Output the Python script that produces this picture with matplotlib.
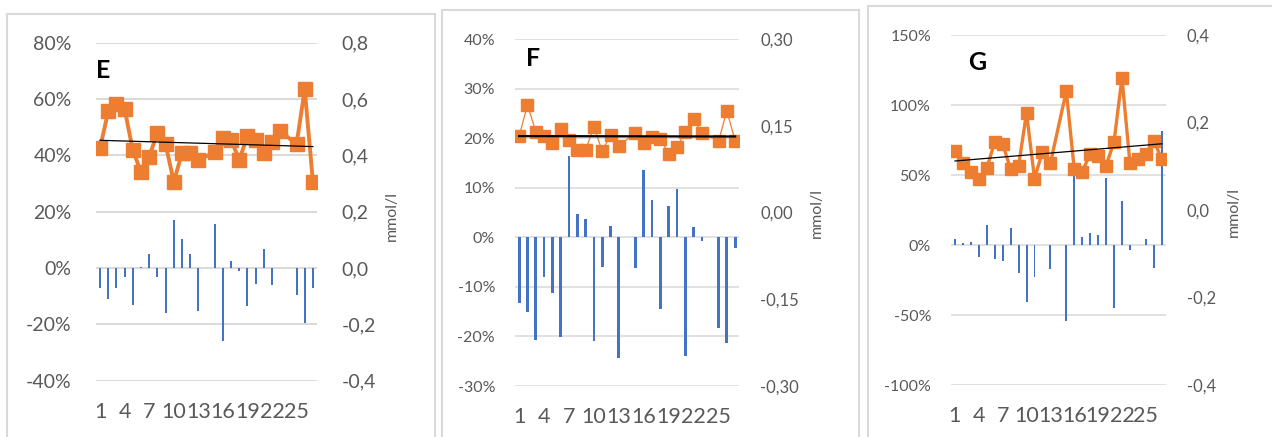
import numpy as np
import matplotlib
matplotlib.use("Agg")
import matplotlib.pyplot as plt
from matplotlib.patches import Rectangle

plt.rcParams['font.family'] = ['Lato', 'DejaVu Sans']

nan = np.nan
cats = np.arange(1, 28)
xtick_pos = [1, 4, 7, 10, 13, 16, 19, 22, 25]

# bars: % change (left axis), line: mmol/l (right axis)
e_bars = [-7.0, -10.9, -7.0, -3.2, -13.0, 0.5, 5.1, -3.2, -16.0, 16.9, 10.4, 5.1, -15.1, nan,
          15.5, -26.0, 2.5, -1.2, -13.6, -5.6, 6.6, -6.2, nan, nan, -9.7, -19.6, -7.0]
e_line = [0.427, 0.557, 0.584, 0.563, 0.418, 0.341, 0.395, 0.481, 0.440, 0.306, 0.407, 0.409, 0.383, nan,
          0.412, 0.463, 0.454, 0.385, 0.468, 0.454, 0.407, 0.448, 0.486, nan, 0.440, 0.634, 0.306]

f_bars = [-13.3, -15.0, -20.7, -8.1, -11.3, -20.1, 16.4, 4.6, 3.6, -20.9, -5.9, 2.3, -24.4, nan,
          -6.1, 13.6, 7.5, -14.5, 6.4, 9.8, -24.0, 2.0, -0.7, nan, -18.2, -21.3, -2.2]
f_line = [0.132, 0.186, 0.140, 0.132, 0.121, 0.145, 0.126, 0.108, 0.108, 0.148, 0.106, 0.134, 0.115, nan,
          0.138, 0.120, 0.131, 0.127, 0.102, 0.113, 0.140, 0.162, 0.138, nan, 0.123, 0.176, 0.124]

g_bars = [4.0, 1.4, 1.9, -8.8, 14.3, -10.2, -11.4, 11.9, -19.8, -40.5, -22.6, nan, -17.4, nan,
          -54.3, 53.0, 5.5, 8.8, 7.1, 47.6, -45.2, 31.7, -3.6, nan, 4.3, -16.7, 81.7]
g_line = [0.136, 0.108, 0.088, 0.071, 0.095, 0.156, 0.151, 0.093, 0.101, 0.222, 0.072, 0.133, 0.107, nan,
          0.272, 0.093, 0.088, 0.128, 0.123, 0.101, 0.156, 0.302, 0.108, 0.116, 0.128, 0.158, 0.117]

e_left_ticks = [-40, -20, 0, 20, 40, 60, 80]
e_right_ticks = [-0.4, -0.2, 0.0, 0.2, 0.4, 0.6, 0.8]
f_left_ticks = [-30, -20, -10, 0, 10, 20, 30, 40]
f_right_ticks = [-0.30, -0.15, 0.0, 0.15, 0.30]
g_left_ticks = [-100, -50, 0, 50, 100, 150]
g_right_ticks = [-0.4, -0.2, 0.0, 0.2, 0.4]

ORANGE = '#ED7D31'
BLUE = '#4472C4'
GRAY = '#595959'
GRID = '#d9d9d9'

W, H = 1272, 437
fig = plt.figure(figsize=(W / 100, H / 100), dpi=100)

# panel frames (pixel coords)
for (l, t, r) in [(7, 14, 435), (442, 10, 859), (868, 6, 1300)]:
    fig.patches.append(Rectangle((l / W, -0.05), (r - l) / W, 1.05 - t / H, transform=fig.transFigure,
                                 fill=False, edgecolor=GRID, linewidth=1.5))


def comma(v, nd):
    return f"{v:.{nd}f}".replace('.', ',')


def panel(box, bars, line, lticks, rticks, rdec, letter, letter_xy, unit_xy,
          lsize, rsize, lw, ms, bw, tw, glw):
    l, t, r, b = box
    ax = fig.add_axes([l / W, 1 - b / H, (r - l) / W, (b - t) / H])
    bars = np.array(bars, dtype=float)
    line = np.array(line, dtype=float)
    ok = ~np.isnan(bars)
    ax.bar(cats[ok], bars[ok], width=bw, color=BLUE, zorder=3)
    ax.set_xlim(0.5, 27.5)
    ax.set_ylim(lticks[0], lticks[-1])
    ax.set_yticks(lticks)
    ax.set_yticklabels([f"{v}%" for v in lticks])
    ax.set_xticks(xtick_pos)
    ax.set_xticklabels([str(v) for v in xtick_pos])
    ax.grid(axis='y', color=GRID, linewidth=glw, zorder=0)
    ax.set_axisbelow(True)
    for s in ax.spines.values():
        s.set_visible(False)
    ax.tick_params(axis='y', length=0, pad=lsize * 1.25, labelsize=lsize, labelcolor=GRAY)
    ax.tick_params(axis='x', length=0, pad=15, labelsize=15.5, labelcolor=GRAY)

    ax2 = ax.twinx()
    ok2 = ~np.isnan(line)
    ax2.plot(cats[ok2], line[ok2], color=ORANGE, linewidth=lw, marker='s', markersize=ms,
             markeredgecolor=ORANGE, markerfacecolor=ORANGE, zorder=3)
    k, c = np.polyfit(cats[ok2], line[ok2], 1)
    ax2.plot([1, 27], [k * 1 + c, k * 27 + c], color='black', linewidth=tw, zorder=4)
    ax2.set_ylim(rticks[0], rticks[-1])
    ax2.set_yticks(rticks)
    ax2.set_yticklabels([comma(v, rdec) for v in rticks])
    for s in ax2.spines.values():
        s.set_visible(False)
    ax2.tick_params(axis='y', length=0, pad=rsize * 1.25, labelsize=rsize, labelcolor=GRAY)

    fig.text(letter_xy[0] / W, 1 - letter_xy[1] / H, letter, fontsize=18, fontweight='bold',
             color='black', ha='center', va='center')
    fig.text(unit_xy[0] / W, 1 - unit_xy[1] / H, 'mmol/l', fontsize=11.5, color=GRAY,
             rotation=90, ha='center', va='center')


panel((96, 42.7, 317, 380.7), e_bars, e_line, e_left_ticks, e_right_ticks, 1, 'E', (103, 70), (392, 216),
      14, 14, 2.8, 9.5, 0.25, 0.9, 1.4)
panel((515, 39, 739.3, 386), f_bars, f_line, f_left_ticks, f_right_ticks, 2, 'F', (533, 59), (817, 213),
      11.5, 12, 0.9, 8.5, 0.33, 1.6, 1.1)
panel((951, 35, 1165.7, 385), g_bars, g_line, g_left_ticks, g_right_ticks, 1, 'G', (977, 63), (1234, 212),
      11.5, 12, 2.4, 9, 0.25, 0.9, 1.1)

fig.savefig('out.png', dpi=100)
